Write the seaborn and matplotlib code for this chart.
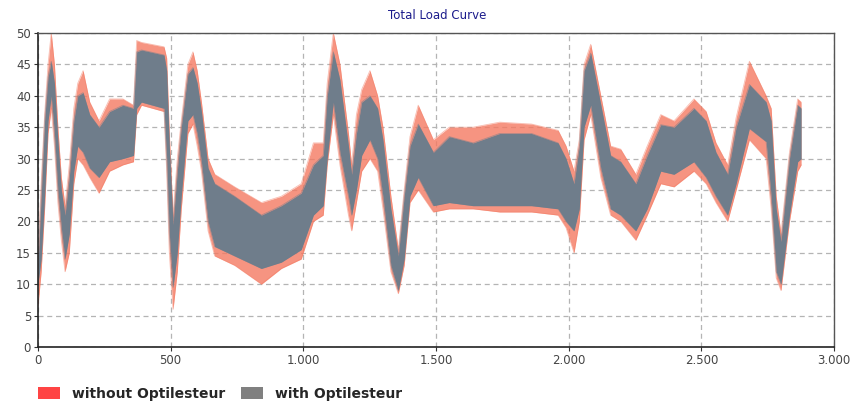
import numpy as np
import pandas as pd
import seaborn as sns
from matplotlib import pyplot as plt
from matplotlib.patches import Patch
from matplotlib.ticker import FuncFormatter, MultipleLocator

# sample positions along the curve (envelopes)
x_pos = [0, 12, 25, 38, 50, 62, 75, 88, 102, 118, 135, 150, 170, 195, 230, 270,
         320, 360, 372, 390, 475, 485, 495, 509, 525, 540, 565, 584, 600, 616,
         641, 666, 741, 842, 917, 992, 1038, 1075, 1090, 1113, 1138, 1170, 1182,
         1200, 1220, 1251, 1280, 1300, 1330, 1358, 1380, 1402, 1433, 1490, 1550,
         1640, 1740, 1860, 1960, 1990, 2020, 2040, 2058, 2083, 2121, 2158, 2196,
         2253, 2296, 2347, 2397, 2472, 2518, 2555, 2599, 2631, 2681, 2744, 2763,
         2782, 2800, 2832, 2863, 2876]

# with Optilesteur (gray cloud)
with_lo = [10, 14, 24, 36, 40, 34, 25, 19, 14, 18, 28, 32, 31, 28.5, 27, 29.5,
           30, 30.5, 38, 39, 38, 30, 18, 9.5, 15, 24, 36, 37, 34, 29.5,
           20, 16, 14.5, 12.5, 13.5, 15.5, 21, 22.5, 30, 39, 31, 24, 21,
           25, 30.5, 33, 30, 24, 13, 9, 14, 24, 27, 22.5, 23,
           22.5, 22.5, 22.5, 22, 20, 18.5, 22, 35, 38.5, 28.5, 22, 21,
           18.5, 22, 28, 27.5, 29.5, 27, 24, 21, 26, 34.8, 32.7, 24,
           12, 10, 21, 29.5, 30]
with_hi = [13, 24, 36, 43, 45.5, 42, 33, 25, 21, 27, 36, 40, 40.5, 37, 35, 37.5,
           38.5, 38, 47, 47.3, 46.5, 44, 32, 19.5, 28, 35, 43.5, 44.5, 42, 37.5,
           28.5, 26, 24, 21, 22.5, 24.5, 29, 30.5, 40, 47, 42.5, 32, 27.5,
           34, 39, 40, 38, 33, 22, 14.5, 24, 32, 35.5, 31, 33.5,
           32.5, 34, 34, 32.5, 30, 26, 32, 44, 46.8, 38.6, 30.5, 29.5,
           26, 30.5, 35.4, 35, 38, 36, 31, 27.5, 35, 41.8, 39, 36,
           22, 16.8, 30, 38.5, 38]

# without Optilesteur (red cloud)
without_lo = [6.5, 12, 22, 34, 38, 32, 23, 17, 12, 15, 26, 30, 29, 27, 24.5, 28,
              29, 29.5, 37, 38.5, 37.5, 28, 15, 6, 12, 22, 34, 35.5, 32, 28,
              18.5, 14.5, 13, 10, 12.5, 14, 20, 21, 29, 37, 29, 21, 18.5,
              23, 28, 30, 28, 22, 12, 8.5, 13, 23, 25, 21.5, 22,
              22, 21.5, 21.5, 21, 19, 15, 20, 33, 37, 27, 21, 20,
              17, 21, 26, 25.5, 28, 26, 23, 20, 25, 33, 30, 22,
              11, 9, 20, 28, 29]
without_hi = [14, 26, 37, 45, 50, 45, 35, 27, 22.5, 29, 38, 42, 44, 39, 36, 39.5,
              39.5, 38.5, 48.8, 48.5, 47.8, 46, 34, 21, 30, 36, 45, 47, 44, 39,
              30, 27.5, 25.5, 23, 24, 26, 32.5, 32.5, 42, 50, 45, 34, 29,
              37, 41, 44, 40, 35, 24, 15.5, 25, 33.5, 38.5, 33, 35,
              35, 35.8, 35.5, 34.5, 32, 28, 33, 45, 48.2, 40, 32, 31.5,
              27.5, 32, 37, 36, 39.5, 37.5, 32.5, 29, 36.5, 45.5, 40, 38,
              24, 18, 31, 39.5, 39]

series = ['without Optilesteur', 'with Optilesteur']
colors = {'without Optilesteur': '#f47a62', 'with Optilesteur': '#6b7d8c'}
legend_colors = ['#ff4444', '#808080']

df = pd.DataFrame({'x': x_pos * 4,
                   'load': without_lo + without_hi + with_lo + with_hi,
                   'series': [series[0]] * (2 * len(x_pos)) + [series[1]] * (2 * len(x_pos)),
                   'edge': (['lo'] * len(x_pos) + ['hi'] * len(x_pos)) * 2})

sns.set_style('white')
fig = plt.figure(figsize=(8.57, 4.09), dpi=100)
ax = fig.add_axes([0.0443, 0.1516, 0.9289, 0.7677])

for name, alpha in zip(series, [0.8, 0.97]):
    sub = df[df.series == name]
    lo = sub[sub.edge == 'lo']['load'].values
    hi = sub[sub.edge == 'hi']['load'].values
    ax.fill_between(x_pos, lo, hi, color=colors[name], lw=0, alpha=alpha, zorder=2)
    sns.lineplot(data=sub, x='x', y='load', units='edge', estimator=None,
                 color=colors[name], lw=0.6, alpha=0.5, ax=ax, zorder=2, legend=False)

ax.set_xlim(0, 3000)
ax.set_ylim(0, 50)
ax.xaxis.set_major_locator(MultipleLocator(500))
ax.yaxis.set_major_locator(MultipleLocator(5))
ax.xaxis.set_major_formatter(FuncFormatter(lambda v, p: f'{int(v):,}'.replace(',', '.')))
ax.set_xlabel('')
ax.set_ylabel('')
ax.grid(True, color='#b4b4b4', linestyle=(0, (4, 3)), lw=0.9, zorder=1)
ax.set_axisbelow(True)
ax.tick_params(axis='both', labelsize=8.5, labelcolor='#444444', length=3,
               color='#333333', direction='out', left=True, bottom=True, pad=2)
for side in ['left', 'bottom']:
    ax.spines[side].set_color('#222222')
    ax.spines[side].set_linewidth(1.2)
for side in ['top', 'right']:
    ax.spines[side].set_color('#555555')
    ax.spines[side].set_linewidth(1.0)

fig.text(0.51, 0.962, 'Total Load Curve', color='#1c1c8c', fontsize=8.5,
         ha='center', va='center')

handles = [Patch(facecolor=c, edgecolor='none') for c in legend_colors]
fig.legend(handles, series, loc='lower left', bbox_to_anchor=(0.03, -0.01),
           ncol=2, frameon=False, prop={'weight': 'bold', 'size': 10},
           handlelength=1.6, handleheight=0.9, handletextpad=0.85,
           columnspacing=1.1)

plt.savefig('out.png', dpi=100)
